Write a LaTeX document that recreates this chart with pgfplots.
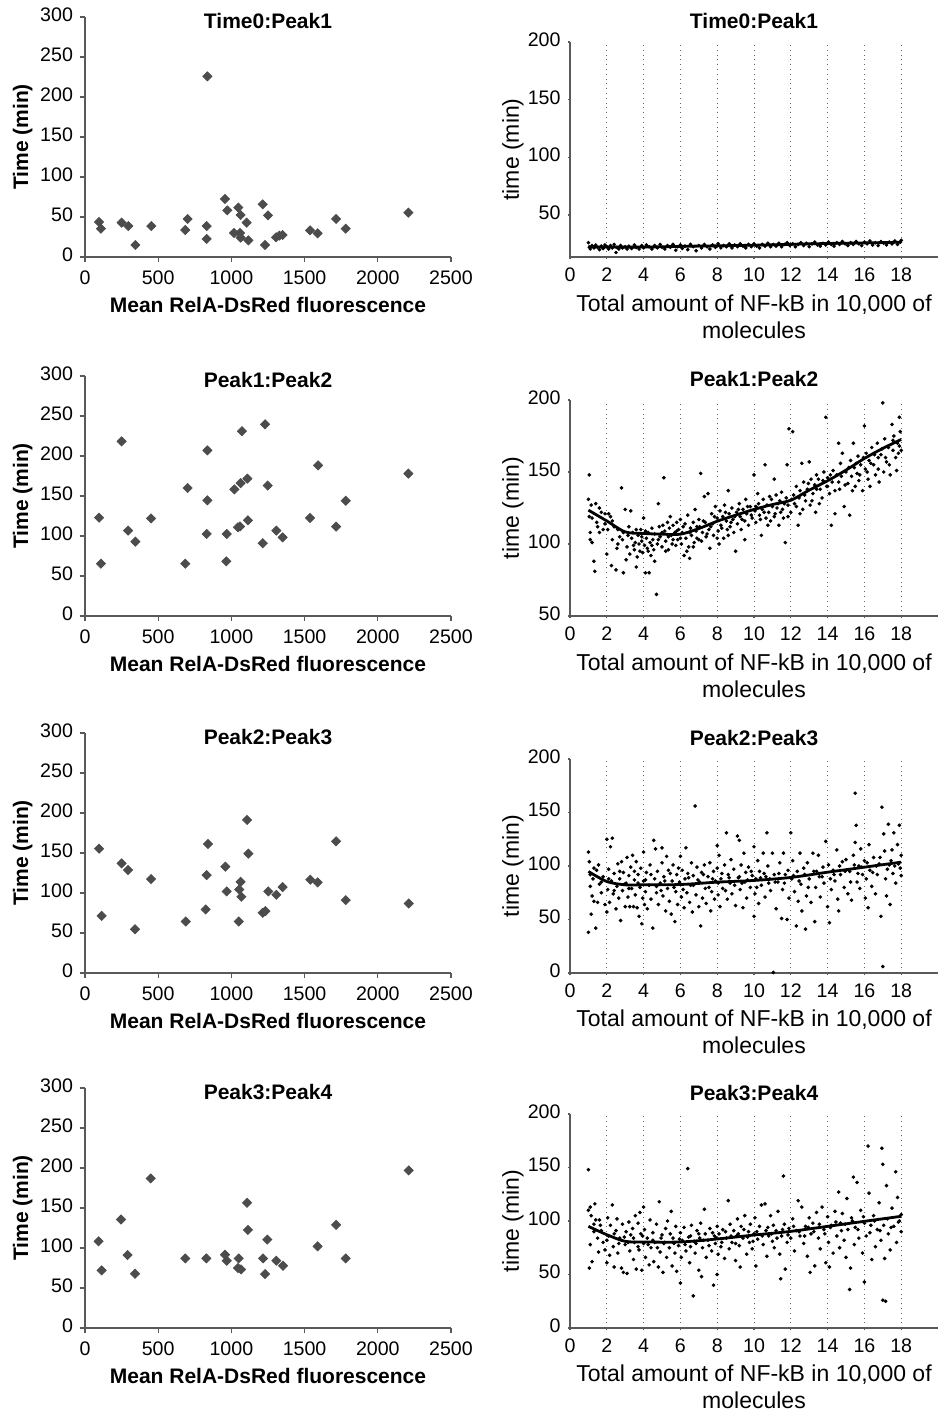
\documentclass[border=0pt]{standalone}
\usepackage{fontspec}
\setmainfont{Liberation Sans}
\usepackage{pgfplots}
\pgfplotsset{compat=1.18}

\pgfplotsset{
  common/.style={
    scale only axis, clip=false,
    axis lines=left, axis line style={-, black!65, line width=0.7pt},
    tick align=outside, tick style={black!65, line width=0.6pt},
    /pgf/number format/assume math mode=true,
    /pgf/number format/1000 sep={}, scaled ticks=false,
    typeset ticklabels with strut,
    ticklabel style={font=\fontsize{9.8}{11}\selectfont},
  },
  leftpanel/.style={common,
    width=183pt, height=120pt,
    xmin=0, xmax=2500, ymin=0, ymax=300,
    xtick={0,500,...,2500}, ytick={0,50,...,300},
    major tick length=2.5pt,
    xlabel={Mean RelA-DsRed fluorescence}, ylabel={Time (min)},
    label style={font=\fontsize{10.5}{12}\selectfont\bfseries},
    xlabel style={at={(axis description cs:0.5,-0.2)}, anchor=center},
    ylabel style={at={(axis description cs:-0.17,0.5)}, anchor=center},
    title style={font=\fontsize{10.5}{12}\selectfont\bfseries,
      at={(axis description cs:0.5,0.932)}, anchor=center},
  },
  rightpanel/.style={common,
    width=184pt,
    xmin=0, xmax=20, xtick={0,2,...,18},
    major tick length=1.2pt,
    xmajorgrids, major grid style={dotted, black!60, line width=0.5pt},
    xlabel={Total amount of NF-kB in 10,000 of\\molecules}, ylabel={time (min)},
    label style={font=\fontsize{11.5}{13.5}\selectfont},
    xlabel style={align=center, at={(axis description cs:0.5,-0.277)}, anchor=center},
    ylabel style={at={(axis description cs:-0.155,0.5)}, anchor=center},
    title style={font=\fontsize{10.5}{12}\selectfont\bfseries,
      at={(axis description cs:0.5,1.043)}, anchor=center},
  },
  diam/.style={only marks, mark=square*, mark size=1.6pt,
    mark options={rotate=45, fill=black!70, draw=black!70}},
  dots/.style={only marks, mark=*, mark size=0.7pt,
    mark options={fill=black, draw=none}},
  fit/.style={no marks, smooth, black, line width=1.4pt},
}

\begin{document}
\begin{tikzpicture}

% ---------------- left column: Mean RelA-DsRed fluorescence ----------------
\begin{axis}[leftpanel, at={(42.5pt,577.5pt)}, anchor=south west, title={Time0:Peak1}]
\addplot[diam] coordinates {
(96,43.7)(109,35.4)(250,42.9)(296,38.7)(344,15)(453,38.7)(685,33.7)(701,47.5)
(831,38.7)(831,22.5)(836,225.8)(956,72.5)(972,58.3)(1018,30)(1047,61.7)(1059,30)
(1063,52.5)(1063,24.2)(1104,42.9)(1116,20.8)(1214,65.8)(1230,15)(1250,52)(1305,24.6)
(1328,26.7)(1350,27.5)(1537,33.3)(1589,29.6)(1715,47.5)(1781,35.4)(2209,55.4)};
\end{axis}

\begin{axis}[leftpanel, at={(42.5pt,398pt)}, anchor=south west, title={Peak1:Peak2}]
\addplot[diam] coordinates {
(96,122.9)(109,65.4)(250,218.3)(294,106.7)(344,92.9)(451,122)(685,65.4)(701,160)
(831,102.5)(836,207)(836,144.6)(965,68.3)(968,102.5)(1020,158.3)(1045,110.8)(1059,112)
(1063,166)(1072,231)(1109,171.7)(1113,119.6)(1214,91)(1230,239.6)(1248,163)(1307,106.7)
(1350,98.3)(1537,122.5)(1592,188.3)(1715,111.7)(1781,144)(2209,178)};
\end{axis}

\begin{axis}[leftpanel, at={(42.5pt,219.5pt)}, anchor=south west, title={Peak2:Peak3}]
\addplot[diam] coordinates {
(96,155.4)(114,71.4)(250,137)(294,128.7)(342,54.7)(451,117.4)(688,64.3)(824,79.4)
(831,122.4)(840,161.3)(959,132.9)(968,102)(1050,64.3)(1054,104.4)(1063,114)(1068,95.3)
(1107,191.3)(1116,149.2)(1214,75.2)(1232,77.3)(1252,102)(1307,97.8)(1350,107.4)
(1539,116.6)(1589,113.2)(1715,164.6)(1781,91.1)(2211,86.9)};
\end{axis}

\begin{axis}[leftpanel, at={(42.5pt,42pt)}, anchor=south west, title={Peak3:Peak4}]
\addplot[diam] coordinates {
(93,108.4)(114,72)(246,135.6)(291,91.2)(342,67.8)(449,187)(685,87)(829,87)
(956,91.6)(968,84.1)(1050,87)(1045,74.9)(1066,73.2)(1107,156.5)(1113,122.6)(1216,87)
(1230,67.4)(1245,110.5)(1307,84.1)(1353,77.8)(1589,102.1)(1715,128.9)(1781,87)(2211,197)};
\end{axis}

% ---------------- right column: total amount of NF-kB ----------------
\begin{axis}[rightpanel, at={(285pt,577.5pt)}, anchor=south west, height=107.5pt,
  ymin=13.6, ymax=200, ytick={50,100,150,200}, title={Time0:Peak1}]
\addplot[dots] coordinates {
(1.0,26)(1.05,22)(1.1,20.5)(1.2,23.5)(1.3,21.5)(1.4,24)(1.5,22)(1.6,20)(1.7,23)(1.8,21)
(1.9,24)(2.0,22.5)(2.1,20.5)(2.2,23.5)(2.3,21.5)(2.4,24.5)(2.5,17.5)(2.55,22)(2.65,20.5)
(2.75,23.5)(2.85,21.5)(3.0,22.5)(3.1,20.5)(3.2,23)(3.35,21)(3.5,24)(3.6,22)(3.75,20.5)
(3.9,23.5)(4.0,21.5)(4.15,24)(4.3,22.5)(4.45,20.5)(4.6,23.5)(4.75,21.5)(4.9,24.5)(5.0,22)
(5.15,20.5)(5.3,23.5)(5.45,22)(5.6,24.5)(5.75,19.5)(5.85,22.5)(6.0,24)(6.1,21)(6.25,23)
(6.4,20)(6.55,24.5)(6.7,22.5)(6.85,19)(7.0,23.5)(7.15,21.5)(7.3,24.5)(7.45,22.5)(7.6,20.5)
(7.75,24)(7.9,22)(8.05,25)(8.2,21.5)(8.35,23.5)(8.5,22.5)(8.65,25)(8.8,21.5)(8.95,24)
(9.1,22.5)(9.25,25)(9.4,23)(9.55,21.5)(9.7,24.5)(9.85,22.5)(10.0,25)(10.15,23)(10.3,21.5)
(10.45,24.5)(10.6,23)(10.75,25.5)(10.9,22.5)(11.05,24.5)(11.2,23)(11.35,25.5)(11.5,22.5)
(11.65,24.5)(11.8,26)(11.95,23.5)(12.1,25)(12.25,22.5)(12.4,24.5)(12.55,26)(12.7,23.5)
(12.85,25.5)(13.0,22.5)(13.15,25)(13.3,26.5)(13.45,24)(13.6,23)(13.75,25.5)(13.9,24)
(14.05,26.5)(14.2,24.5)(14.35,23)(14.5,26)(14.65,24.5)(14.8,27)(14.95,25)(15.1,23.5)
(15.25,26)(15.4,24.5)(15.55,27)(15.7,25)(15.85,23.5)(16.0,26.5)(16.15,25)(16.3,27.5)
(16.45,24)(16.6,26)(16.75,23.5)(16.9,27)(17.05,25.5)(17.2,24)(17.35,26.5)(17.5,25)
(17.65,27.5)(17.8,24.5)(17.95,26.5)(18.0,28)};
\addplot[fit] coordinates {
(1,22.5)(2,22.2)(4,22.2)(6,22.8)(8,23.3)(10,23.8)(12,24.6)(14,25.3)(16,25.8)(18,26.4)};
\end{axis}

\begin{axis}[rightpanel, at={(285pt,398pt)}, anchor=south west, height=108pt,
  ymin=50, ymax=200, ytick={50,100,150,200}, title={Peak1:Peak2}]
\addplot[dots] coordinates {
(1.0,131)(1.05,148)(1.05,119)(1.1,108)(1.1,103)(1.15,127)(1.2,101)(1.3,88)(1.35,81)(1.4,128)
(1.45,115)(1.5,112)(1.6,108)(1.7,122)(1.8,110)(1.9,121)(2.0,93)(2.05,110)(2.1,121)(2.2,119)
(2.25,85)(2.3,103)(2.4,112)(2.5,82)(2.55,97)(2.6,110)(2.7,105)(2.8,139)(2.85,103)(2.9,80)
(3.0,124)(3.05,89)(3.1,98)(3.2,112)(3.25,93)(3.3,123)(3.35,104)(3.4,108)(3.5,96)(3.55,101)
(3.6,84)(3.65,91)(3.7,106)(3.75,100)(3.8,95)(3.85,110)(3.9,102)(3.95,94)(4.0,118)(4.05,99)
(4.1,80)(4.15,104)(4.2,97)(4.25,108)(4.3,80)(4.35,101)(4.4,92)(4.45,111)(4.5,103)(4.55,96)
(4.6,107)(4.7,65)(4.75,100)(4.8,128)(4.85,112)(4.9,105)(5.0,98)(5.05,113)(5.1,146)(5.15,109)
(5.2,102)(5.3,115)(5.35,96)(5.4,111)(5.45,119)(5.5,106)(5.55,100)(5.6,113)(5.7,108)(5.75,99)
(5.8,115)(5.85,103)(5.9,110)(6.0,117)(6.05,100)(6.1,108)(6.2,92)(6.25,114)(6.3,104)(6.4,120)
(6.45,98)(6.5,90)(6.55,111)(6.6,106)(6.7,115)(6.75,101)(6.8,124)(6.85,109)(6.9,104)(7.0,117)
(7.05,112)(7.1,149)(7.15,102)(7.2,108)(7.3,133)(7.35,115)(7.4,105)(7.5,135)(7.55,110)(7.6,97)
(7.7,121)(7.75,114)(7.8,106)(7.9,126)(8.0,118)(8.05,109)(8.1,100)(8.15,123)(8.2,113)(8.3,119)
(8.35,104)(8.4,127)(8.5,116)(8.55,110)(8.6,137)(8.65,121)(8.7,112)(8.8,125)(8.85,117)(8.9,108)
(9.0,95)(9.05,122)(9.1,114)(9.2,128)(9.25,119)(9.3,110)(9.4,124)(9.5,116)(9.55,131)(9.6,121)
(9.7,113)(9.8,126)(9.9,118)(10.0,148)(10.05,123)(10.1,115)(10.2,135)(10.25,128)(10.3,120)
(10.4,106)(10.45,124)(10.5,131)(10.6,155)(10.65,118)(10.7,127)(10.8,122)(10.85,133)(10.9,116)
(11.0,126)(11.1,145)(11.15,121)(11.2,134)(11.3,128)(11.35,113)(11.4,130)(11.5,136)(11.55,124)
(11.6,118)(11.7,101)(11.75,132)(11.8,155)(11.85,127)(11.9,180)(12.0,122)(12.1,178)(12.15,134)
(12.2,128)(12.3,140)(12.4,113)(12.45,132)(12.5,137)(12.6,156)(12.65,124)(12.7,143)(12.8,130)
(12.9,138)(13.0,157)(13.05,127)(13.1,145)(13.2,135)(13.3,141)(13.35,122)(13.4,148)(13.5,145)
(13.6,138)(13.7,132)(13.8,150)(13.9,188)(13.95,140)(14.0,146)(14.1,135)(14.2,113)(14.25,143)
(14.3,151)(14.4,121)(14.5,148)(14.6,170)(14.65,138)(14.7,156)(14.8,163)(14.9,126)(15.0,150)
(15.1,142)(15.2,120)(15.25,158)(15.3,147)(15.4,170)(15.45,153)(15.5,140)(15.6,149)(15.65,161)
(15.7,144)(15.8,155)(15.9,137)(16.0,182)(16.05,152)(16.1,163)(16.2,145)(16.25,158)(16.3,140)
(16.4,167)(16.5,155)(16.6,148)(16.7,170)(16.75,160)(16.8,143)(16.9,162)(17.0,198)(17.05,150)
(17.1,173)(17.2,157)(17.3,167)(17.4,148)(17.5,183)(17.55,165)(17.6,175)(17.7,160)(17.8,170)
(17.85,163)(17.9,188)(17.95,178)(18.0,165)
(1.2,118)(1.6,125)(1.9,114)(2.3,116)(2.6,100)(2.9,108)(3.15,106)(3.45,99)(3.6,110)(3.9,105)
(4.1,109)(4.25,95)(4.45,99)(4.6,88)(4.8,103)(5.0,108)(5.2,95)(5.35,105)(5.6,103)(5.8,109)
(6.0,104)(6.15,112)(6.35,95)(6.5,108)(6.7,98)(6.9,112)(7.0,103)(7.25,116)(7.45,107)(7.65,112)
(7.85,119)(8.0,104)(8.25,111)(8.45,122)(8.6,106)(8.75,115)(8.95,119)(9.15,124)(9.35,117)
(9.5,103)(9.65,126)(9.85,120)(10.1,126)(10.35,117)(10.55,122)(10.75,113)(10.95,131)(11.1,119)
(11.25,125)(11.45,122)(11.65,128)(11.85,119)(12.05,131)(12.3,126)(12.5,121)(12.75,134)
(12.95,142)(13.15,130)(13.4,138)(13.55,128)(13.75,144)(14.0,140)(14.15,148)(14.4,137)
(14.6,143)(14.75,147)(14.95,141)(15.15,153)(15.35,137)(15.55,156)(15.75,148)(15.95,160)
(16.15,150)(16.35,156)(16.55,162)(16.75,152)(16.95,166)(17.15,160)(17.35,155)(17.55,172)
(17.75,151)(17.9,168)};
\addplot[fit] coordinates {
(1,123.5)(2,116)(3,108.4)(4,107.3)(5,106.8)(6,106.8)(7,110.7)(8,115.8)(9,120)(10,124)
(11,127.4)(12,130.4)(13,137.4)(14,143.9)(15,151.3)(16,159.4)(17,166.4)(18,172.6)};
\end{axis}

\begin{axis}[rightpanel, at={(285pt,219.5pt)}, anchor=south west, height=107pt,
  ymin=0, ymax=200, ytick={0,50,...,200}, title={Peak2:Peak3}]
\addplot[dots] coordinates {
(1.0,113)(1.0,38)(1.05,104)(1.1,81)(1.1,92)(1.15,55)(1.2,72)(1.25,88)(1.3,67)(1.4,42)
(1.45,96)(1.5,66)(1.55,101)(1.6,83)(1.7,75)(1.8,90)(1.9,64)(2.0,125)(2.0,57)(2.05,78)
(2.1,97)(2.15,66)(2.2,118)(2.25,86)(2.3,126)(2.35,74)(2.4,93)(2.5,60)(2.55,81)(2.6,102)
(2.65,70)(2.7,88)(2.75,49)(2.8,104)(2.85,77)(2.9,94)(3.0,62)(3.05,84)(3.1,108)(3.15,71)
(3.2,91)(3.25,62)(3.3,99)(3.35,79)(3.4,110)(3.45,62)(3.5,87)(3.55,73)(3.6,104)(3.65,61)
(3.7,92)(3.75,53)(3.8,80)(3.85,98)(3.9,46)(3.95,70)(4.0,113)(4.0,86)(4.05,64)(4.1,76)
(4.15,94)(4.2,60)(4.3,82)(4.35,101)(4.4,69)(4.5,42)(4.55,124)(4.6,88)(4.65,116)(4.7,75)
(4.75,95)(4.8,64)(4.9,84)(5.0,117)(5.0,103)(5.05,72)(5.1,90)(5.2,58)(5.25,109)(5.3,79)
(5.35,96)(5.4,67)(5.5,55)(5.55,86)(5.6,101)(5.7,48)(5.75,76)(5.8,92)(5.85,64)(5.9,98)
(6.0,109)(6.0,83)(6.05,71)(6.1,96)(6.2,61)(6.25,88)(6.3,117)(6.35,75)(6.4,93)(6.5,66)
(6.55,82)(6.6,103)(6.65,57)(6.7,91)(6.8,156)(6.85,73)(6.9,99)(7.0,62)(7.05,85)(7.1,44)
(7.15,94)(7.2,70)(7.3,101)(7.35,79)(7.4,65)(7.5,90)(7.6,103)(7.65,58)(7.7,76)(7.8,95)
(7.85,69)(7.9,86)(8.0,119)(8.0,98)(8.05,73)(8.1,110)(8.15,62)(8.2,88)(8.3,79)(8.4,101)
(8.5,131)(8.55,69)(8.6,92)(8.7,84)(8.75,106)(8.8,74)(8.9,97)(9.0,63)(9.1,128)(9.15,89)
(9.2,124)(9.25,78)(9.3,101)(9.4,61)(9.45,112)(9.5,85)(9.55,94)(9.6,70)(9.7,99)(9.8,80)
(9.9,91)(10.0,53)(10.0,118)(10.05,74)(10.1,88)(10.2,105)(10.25,65)(10.3,95)(10.4,82)
(10.5,112)(10.6,71)(10.65,90)(10.7,131)(10.75,100)(10.8,84)(10.9,77)(11.0,112)(11.05,0.5)
(11.1,92)(11.2,60)(11.3,85)(11.4,103)(11.5,51)(11.55,78)(11.6,112)(11.7,92)(11.8,50)
(11.9,70)(12.0,131)(12.05,88)(12.1,105)(12.2,76)(12.3,44)(12.35,95)(12.4,67)(12.5,112)
(12.55,83)(12.6,58)(12.7,98)(12.8,41)(12.85,72)(12.9,103)(13.0,88)(13.1,66)(13.2,112)
(13.3,48)(13.35,80)(13.4,95)(13.5,110)(13.6,71)(13.7,90)(13.8,84)(13.9,123)(14.0,62)
(14.05,101)(14.1,47)(14.2,78)(14.3,96)(14.4,86)(14.5,115)(14.55,69)(14.6,58)(14.7,92)
(14.8,104)(14.9,80)(15.0,106)(15.1,74)(15.2,95)(15.3,68)(15.4,110)(15.5,122)(15.5,168)
(15.55,138)(15.6,85)(15.7,100)(15.75,79)(15.8,116)(15.9,92)(16.0,105)(16.05,70)(16.1,88)
(16.2,61)(16.25,120)(16.3,96)(16.4,81)(16.5,108)(16.6,74)(16.7,92)(16.8,102)(16.9,53)
(16.95,155)(17.0,6)(17.05,130)(17.1,114)(17.15,88)(17.2,72)(17.3,139)(17.35,101)(17.4,64)
(17.5,115)(17.55,93)(17.6,131)(17.7,84)(17.8,120)(17.85,102)(17.9,138)(18.0,91)(18.0,110)
(1.3,98)(1.7,85)(2.1,88)(2.4,77)(2.7,95)(2.95,83)(3.2,79)(3.5,95)(3.7,84)(4.1,87)(4.4,92)
(4.7,81)(4.95,77)(5.15,86)(5.45,93)(5.65,80)(5.95,85)(6.15,78)(6.45,89)(6.7,82)(6.95,87)
(7.25,92)(7.55,80)(7.75,88)(8.05,84)(8.25,93)(8.45,77)(8.65,89)(8.95,82)(9.2,90)(9.35,84)
(9.65,87)(9.85,95)(10.15,80)(10.35,89)(10.55,93)(10.85,88)(11.15,85)(11.35,93)(11.65,84)
(11.85,96)(12.15,91)(12.45,86)(12.75,92)(12.95,80)(13.25,95)(13.55,90)(13.75,99)(14.15,88)
(14.35,92)(14.65,100)(14.95,95)(15.25,85)(15.45,101)(15.65,93)(15.85,99)(16.15,103)
(16.45,94)(16.65,100)(16.85,108)(17.25,97)(17.45,105)(17.65,100)(17.95,98)};
\addplot[fit] coordinates {
(1,94.9)(2,85.5)(3,82.4)(4,82.4)(6,82.7)(8,84.9)(10,86.5)(12,89.3)(14,94.2)(16,98.9)(18,103.6)};
\end{axis}

\begin{axis}[rightpanel, at={(285pt,42pt)}, anchor=south west, height=107pt,
  ymin=0, ymax=200, ytick={0,50,...,200}, title={Peak3:Peak4}]
\addplot[dots] coordinates {
(1.0,148)(1.0,110)(1.05,56)(1.1,78)(1.1,113)(1.15,105)(1.2,62)(1.3,97)(1.35,116)(1.4,101)
(1.5,84)(1.55,71)(1.6,101)(1.7,91)(1.8,80)(1.9,73)(2.0,61)(2.05,103)(2.1,86)(2.15,68)
(2.2,96)(2.3,115)(2.35,76)(2.4,57)(2.5,91)(2.55,102)(2.6,70)(2.7,84)(2.8,56)(2.85,97)
(2.9,52)(3.0,78)(3.05,90)(3.1,51)(3.2,99)(3.25,72)(3.3,87)(3.4,93)(3.45,64)(3.5,80)
(3.55,105)(3.6,55)(3.7,98)(3.75,73)(3.8,108)(3.85,88)(3.9,54)(4.0,113)(4.0,79)(4.05,92)
(4.1,66)(4.2,84)(4.3,59)(4.35,101)(4.4,75)(4.5,89)(4.55,62)(4.6,80)(4.7,97)(4.8,57)
(4.85,118)(4.9,71)(5.0,87)(5.05,52)(5.1,79)(5.2,93)(5.25,66)(5.3,100)(5.4,75)(5.5,109)
(5.55,58)(5.6,84)(5.7,70)(5.75,95)(5.8,53)(5.9,77)(6.0,42)(6.0,89)(6.05,66)(6.1,82)
(6.2,94)(6.3,72)(6.4,149)(6.45,85)(6.5,61)(6.55,76)(6.6,96)(6.7,30)(6.75,81)(6.8,70)
(6.9,91)(7.0,54)(7.05,84)(7.1,98)(7.15,48)(7.2,75)(7.3,111)(7.35,88)(7.4,66)(7.5,82)
(7.6,93)(7.7,72)(7.8,40)(7.85,86)(7.9,79)(8.0,95)(8.0,50)(8.05,69)(8.1,88)(8.2,76)
(8.3,92)(8.4,65)(8.5,84)(8.6,119)(8.65,74)(8.7,97)(8.8,80)(8.9,91)(9.0,63)(9.05,86)
(9.1,102)(9.2,77)(9.25,57)(9.3,95)(9.4,84)(9.5,105)(9.6,69)(9.7,90)(9.75,80)(9.8,97)
(9.9,74)(10.0,88)(10.05,103)(10.1,58)(10.2,83)(10.3,95)(10.4,115)(10.5,78)(10.6,116)
(10.65,91)(10.7,67)(10.8,86)(10.9,105)(11.0,81)(11.05,96)(11.1,75)(11.2,91)(11.3,109)
(11.4,69)(11.45,46)(11.5,86)(11.6,142)(11.65,97)(11.7,55)(11.8,80)(11.9,93)(12.0,84)
(12.1,102)(12.2,72)(12.3,91)(12.4,119)(12.5,86)(12.6,113)(12.7,79)(12.8,95)(12.9,67)
(13.0,103)(13.05,52)(13.1,88)(13.2,98)(13.3,58)(13.4,108)(13.5,84)(13.6,74)(13.7,113)
(13.8,92)(13.9,61)(14.0,104)(14.05,80)(14.1,57)(14.2,96)(14.3,70)(14.4,109)(14.5,86)
(14.6,127)(14.65,75)(14.7,98)(14.8,107)(14.9,82)(15.0,66)(15.05,121)(15.1,92)(15.2,36)
(15.25,56)(15.3,103)(15.4,141)(15.45,78)(15.5,94)(15.6,136)(15.7,84)(15.8,110)(15.9,70)
(16.0,43)(16.0,98)(16.1,86)(16.2,170)(16.25,126)(16.3,89)(16.4,64)(16.5,105)(16.6,76)
(16.7,92)(16.8,117)(16.9,82)(16.95,168)(17.0,153)(17.0,26)(17.05,96)(17.1,65)(17.15,25)
(17.2,133)(17.3,88)(17.4,73)(17.5,112)(17.6,95)(17.7,146)(17.75,80)(17.8,122)(17.9,100)
(18.0,90)(18.0,106)
(1.3,90)(1.65,96)(2.0,82)(2.4,88)(2.65,79)(2.95,85)(3.15,80)(3.45,84)(3.7,76)(3.95,86)
(4.25,78)(4.5,82)(4.75,75)(4.95,84)(5.15,80)(5.45,88)(5.65,79)(5.95,83)(6.25,78)(6.55,86)
(6.85,79)(7.0,88)(7.25,82)(7.55,77)(7.75,89)(7.95,84)(8.25,80)(8.45,90)(8.75,86)(9.0,79)
(9.15,88)(9.45,92)(9.65,85)(9.95,81)(10.15,90)(10.45,86)(10.75,94)(10.95,88)(11.25,84)
(11.55,92)(11.85,87)(12.15,95)(12.45,90)(12.75,86)(12.95,94)(13.25,90)(13.55,97)(13.85,88)
(14.15,94)(14.45,99)(14.75,91)(14.95,97)(15.35,100)(15.65,92)(15.95,104)(16.35,96)
(16.55,100)(16.85,91)(17.25,102)(17.45,94)(17.85,99)};
\addplot[fit] coordinates {
(1,95)(2,87.2)(3,81)(4,80.4)(6,80.4)(8,83.2)(10,86.9)(12,90.3)(14,95)(16,99.7)(18,104.4)};
\end{axis}

\pgfresetboundingbox
\path[use as bounding box] (0,0) rectangle (470pt,706pt);
\end{tikzpicture}
\end{document}
